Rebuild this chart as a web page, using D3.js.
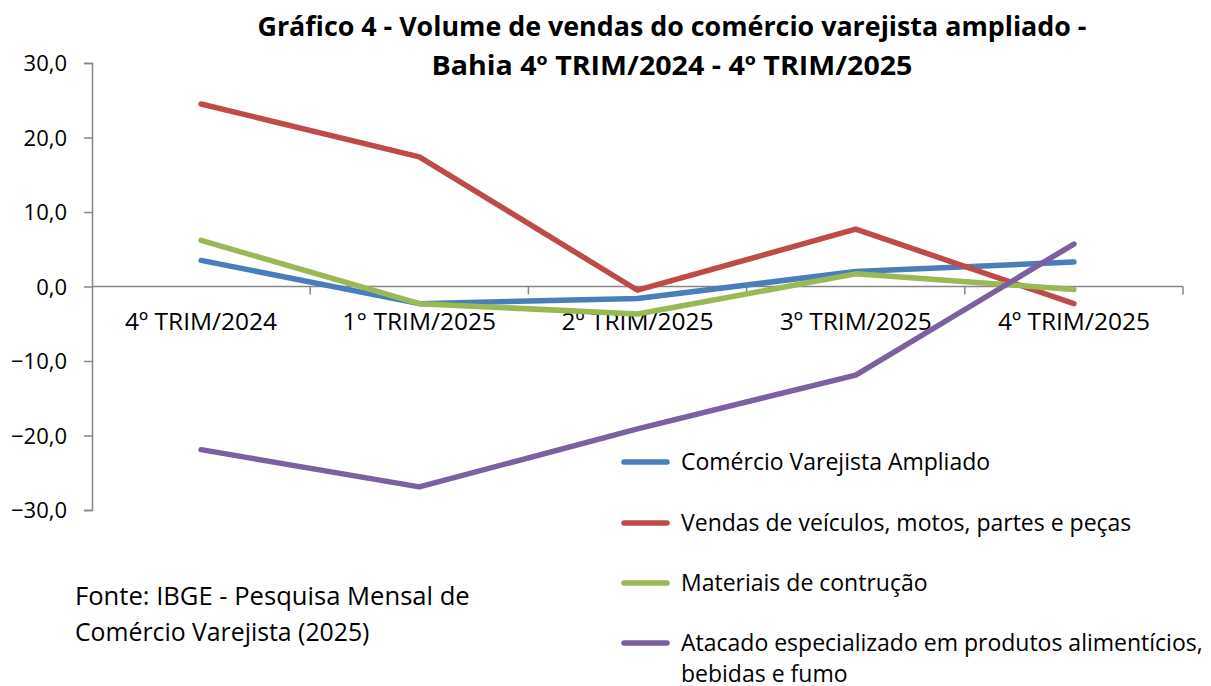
<!DOCTYPE html>
<html>
<head>
<meta charset="utf-8">
<script src="https://cdn.jsdelivr.net/npm/d3@7"></script>
<style>
  body { margin: 0; background: #fff; }
  svg { display: block; }
  text { font-family: "Open Sans", Lato, sans-serif; fill: #000; }
</style>
</head>
<body>
<svg id="chart" width="1211" height="686"></svg>
<script>
const categories = ["4º TRIM/2024", "1° TRIM/2025", "2º TRIM/2025", "3º TRIM/2025", "4º TRIM/2025"];
const seriesNames = [
  "Comércio Varejista Ampliado",
  "Vendas de veículos, motos, partes e peças",
  "Materiais de contrução",
  "Atacado especializado em produtos alimentícios, bebidas e fumo"
];
const varejoAmpliado = [3.5, -2.3, -1.6, 2.0, 3.3];
const veiculos = [24.5, 17.4, -0.5, 7.7, -2.3];
const construcao = [6.2, -2.3, -3.7, 1.7, -0.4];
const atacado = [-21.9, -26.9, -19.1, -11.9, 5.7];
const yTicks = [-30, -20, -10, 0, 10, 20, 30];
const colors = ["#4a7ebb", "#be4b48", "#98b954", "#7d60a0"];
const titleLines = ["Gráfico 4 - Volume de vendas do comércio varejista ampliado -", "Bahia 4º TRIM/2024 - 4º TRIM/2025"];
const sourceLines = ["Fonte: IBGE - Pesquisa Mensal de", "Comércio Varejista (2025)"];

const allSeries = [varejoAmpliado, veiculos, construcao, atacado];
const svg = d3.select("#chart");

const x = d3.scaleBand().domain(categories).range([92, 1183]).paddingInner(0).paddingOuter(0);
const y = d3.scaleLinear().domain([-30, 30]).range([510, 63]);

// title
svg.append("g").selectAll("text").data(titleLines).join("text")
  .attr("x", 672).attr("y", (d, i) => 36 + i * 39)
  .attr("text-anchor", "middle")
  .style("font-size", "26px").style("font-weight", "bold")
  .attr("textLength", (d, i) => i === 0 ? 829 : 481)
  .attr("lengthAdjust", "spacingAndGlyphs")
  .text(d => d);

// y axis
const yAxis = svg.append("g").attr("transform", "translate(92,0)")
  .call(d3.axisLeft(y).tickValues(yTicks).tickSize(8).tickFormat(d => d3.format(".1f")(d).replace(".", ",")));
yAxis.select(".domain").attr("stroke", "#868686").attr("stroke-width", 1.5);
yAxis.selectAll(".tick line").attr("stroke", "#868686").attr("stroke-width", 1.5);
yAxis.selectAll(".tick text").attr("x", -25).attr("dy", "0.36em").style("font-size", "22px").style("font-family", "'Open Sans', Lato, sans-serif").attr("fill", "#000");

// x axis at zero
const xAxis = svg.append("g").attr("transform", `translate(0,${y(0)})`)
  .call(d3.axisBottom(x).tickSize(0));
xAxis.select(".domain").remove();
xAxis.selectAll(".tick text").attr("y", 43).attr("dy", 0).style("font-size", "24.5px").style("font-family", "'Open Sans', Lato, sans-serif").attr("fill", "#000");
// baseline and tick marks at band edges
svg.append("line").attr("x1", 92).attr("x2", 1183).attr("y1", y(0)).attr("y2", y(0))
  .attr("stroke", "#868686").attr("stroke-width", 1.5);
const edges = categories.map(c => x(c)).concat([x(categories[categories.length - 1]) + x.bandwidth()]).slice(1);
svg.append("g").selectAll("line").data(edges).join("line")
  .attr("x1", d => d).attr("x2", d => d).attr("y1", y(0)).attr("y2", y(0) + 8)
  .attr("stroke", "#868686").attr("stroke-width", 1.5);

// lines
const line = d3.line().x((d, i) => x(categories[i]) + x.bandwidth() / 2).y(d => y(d));
svg.append("g").selectAll("path").data(allSeries).join("path")
  .attr("d", d => line(d))
  .attr("fill", "none")
  .attr("stroke", (d, i) => colors[i])
  .attr("stroke-width", 5.5)
  .attr("stroke-linecap", "round")
  .attr("stroke-linejoin", "round");

// legend
const legendY = [462, 523, 583, 643];
const lg = svg.append("g");
seriesNames.forEach((name, i) => {
  lg.append("line").attr("x1", 624).attr("x2", 667).attr("y1", legendY[i]).attr("y2", legendY[i])
    .attr("stroke", colors[i]).attr("stroke-width", 5.5).attr("stroke-linecap", "round");
});
const legendLabels = [
  ["Comércio Varejista Ampliado"],
  ["Vendas de veículos, motos, partes e peças"],
  ["Materiais de contrução"],
  ["Atacado especializado em produtos alimentícios,", "bebidas e fumo"]
];
legendLabels.forEach((lines, i) => {
  const t = lg.append("text").attr("x", 681).attr("y", legendY[i] + 8).style("font-size", "23px");
  lines.forEach((l, j) => {
    t.append("tspan").attr("x", 681).attr("dy", j === 0 ? 0 : 31).text(l);
  });
});

// source
svg.append("text").attr("x", 75).attr("y", 605).style("font-size", "25.6px").text(sourceLines[0]);
svg.append("text").attr("x", 75).attr("y", 641).style("font-size", "24.8px").text(sourceLines[1]);
</script>
</body>
</html>
